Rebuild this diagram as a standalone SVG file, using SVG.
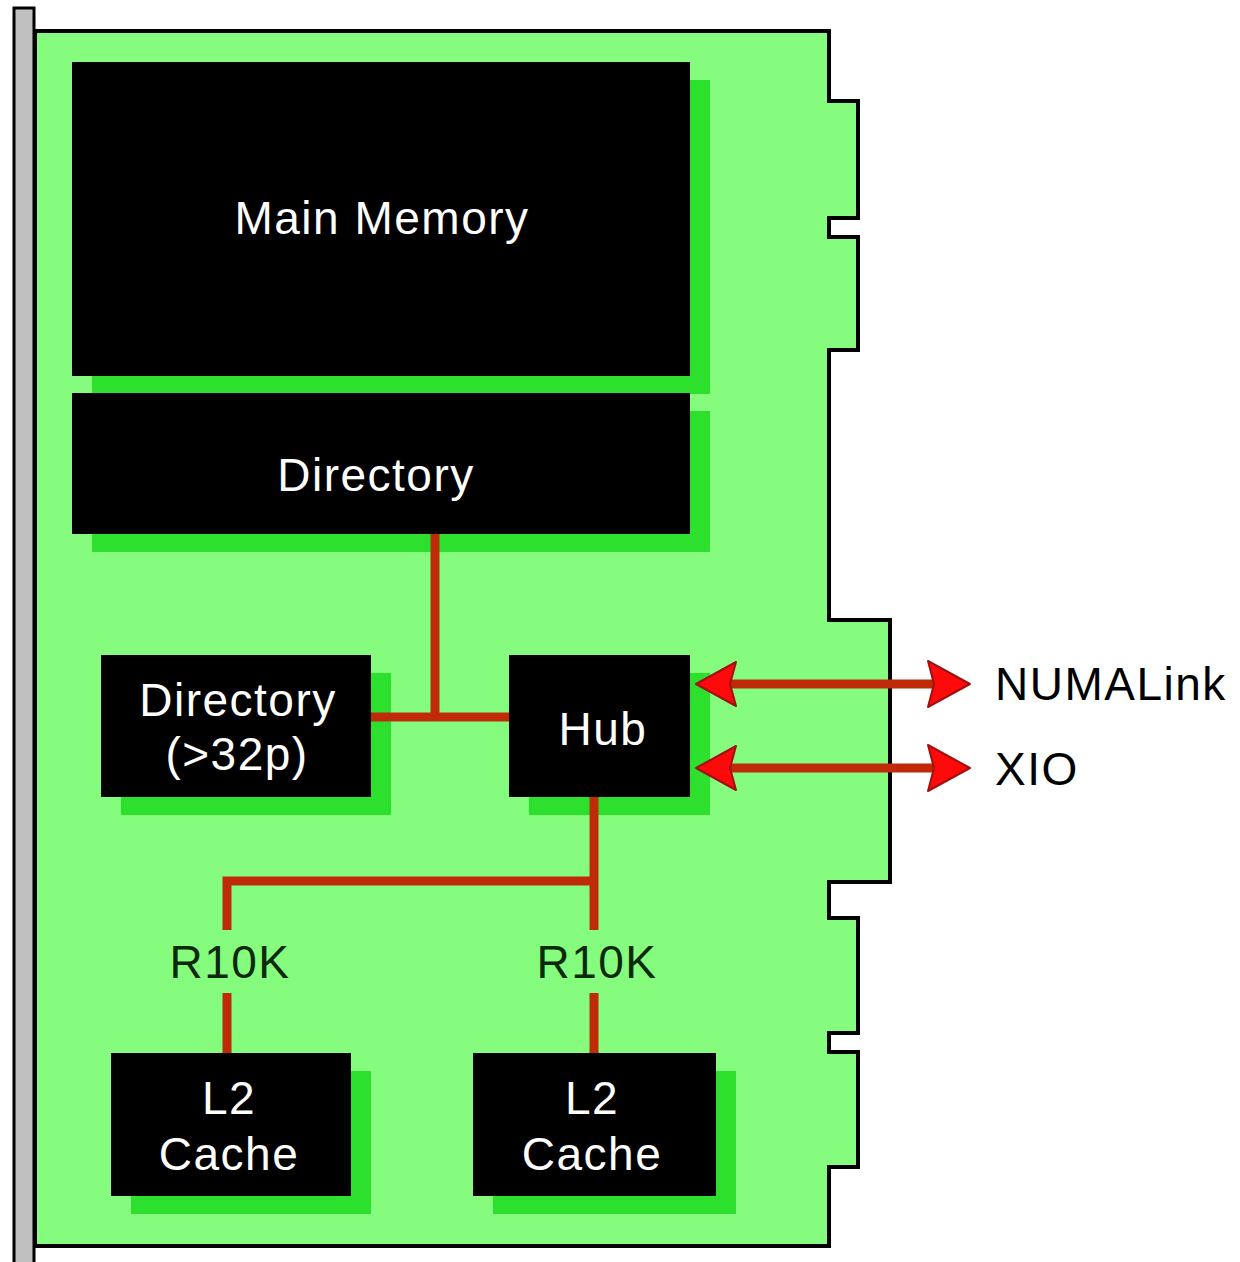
<svg xmlns="http://www.w3.org/2000/svg" width="1240" height="1262" viewBox="0 0 1240 1262">
  <defs>
    <style>
      .shadow { fill: #2ee02e; }
      .box { fill: #000000; }
      .t { font-family: "Liberation Sans", Arial, sans-serif; font-size: 46px; letter-spacing: 1.5px; text-anchor: middle; }
      .w { fill: #ffffff; }
      .lbl { fill: #0a2a0a; }
      .ext { fill: #000000; text-anchor: start; }
      .wire { stroke: #bf2a08; stroke-width: 9; fill: none; stroke-linecap: butt; }
      .head { fill: #ff0a0a; stroke: #a01010; stroke-width: 2; stroke-linejoin: round; }
    </style>
  </defs>
  <rect width="1240" height="1262" fill="#ffffff"/>

  <g id="board">
    <rect x="14" y="8" width="20" height="1260" fill="#c0c0c0" stroke="#000000" stroke-width="3"/>
    <polygon points="35,31 829,31 829,101 858,101 858,218 829,218 829,237 858,237 858,350 829,350 829,620 890,620 890,882 829,882 829,918 858,918 858,1033 829,1033 829,1052 858,1052 858,1167 829,1167 829,1246 35,1246" fill="#86fc7e" stroke="#000000" stroke-width="4"/>
  </g>

  <g id="main-memory">
    <rect class="shadow" x="92" y="80" width="618" height="314"/>
    <rect class="box" x="72" y="62" width="618" height="314"/>
    <text class="t w" x="382" y="234">Main Memory</text>
  </g>

  <g id="directory">
    <rect class="shadow" x="92" y="411" width="618" height="141"/>
    <rect class="box" x="72" y="393" width="618" height="141"/>
    <text class="t w" x="376" y="491">Directory</text>
  </g>

  <g id="directory-32p">
    <rect class="shadow" x="121" y="673" width="270" height="142"/>
    <rect class="box" x="101" y="655" width="270" height="142"/>
    <text class="t w" x="238" y="716">Directory</text>
    <text class="t w" x="237" y="770">(&gt;32p)</text>
  </g>

  <g id="hub">
    <rect class="shadow" x="529" y="673" width="181" height="142"/>
    <rect class="box" x="509" y="655" width="181" height="142"/>
    <text class="t w" x="603" y="745">Hub</text>
  </g>

  <g id="r10k-left">
    <text class="t lbl" x="230" y="978">R10K</text>
  </g>
  <g id="r10k-right">
    <text class="t lbl" x="597" y="978">R10K</text>
  </g>

  <g id="l2-cache-left">
    <rect class="shadow" x="131" y="1071" width="240" height="143"/>
    <rect class="box" x="111" y="1053" width="240" height="143"/>
    <text class="t w" x="229" y="1114">L2</text>
    <text class="t w" x="229" y="1170">Cache</text>
  </g>

  <g id="l2-cache-right">
    <rect class="shadow" x="493" y="1071" width="243" height="143"/>
    <rect class="box" x="473" y="1053" width="243" height="143"/>
    <text class="t w" x="592" y="1114">L2</text>
    <text class="t w" x="592" y="1170">Cache</text>
  </g>

  <g id="numalink">
    <text class="t ext" x="995" y="700">NUMALink</text>
  </g>
  <g id="xio">
    <text class="t ext" x="995" y="785">XIO</text>
  </g>

  <g id="connectors">
    <line class="wire" x1="435" y1="534" x2="435" y2="718"/>
    <line class="wire" x1="371" y1="717" x2="509" y2="717"/>
    <line class="wire" x1="594" y1="797" x2="594" y2="930"/>
    <polyline class="wire" points="227,930 227,881 594,881"/>
    <line class="wire" x1="227" y1="993" x2="227" y2="1053"/>
    <line class="wire" x1="594" y1="993" x2="594" y2="1053"/>
    <line class="wire" x1="720" y1="684" x2="940" y2="684"/>
    <line class="wire" x1="720" y1="768" x2="940" y2="768"/>
    <polygon class="head" points="696,684 736,662 730,684 736,706"/>
    <polygon class="head" points="970,684 928,661 934,684 928,707"/>
    <polygon class="head" points="696,768 736,746 730,768 736,790"/>
    <polygon class="head" points="970,768 928,745 934,768 928,791"/>
  </g>
</svg>
